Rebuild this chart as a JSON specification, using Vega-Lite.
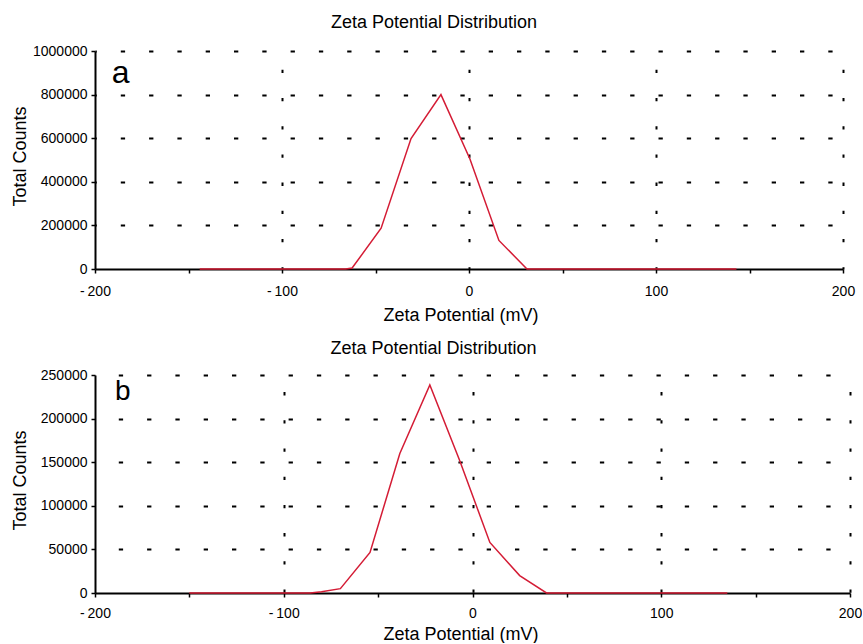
{
  "$schema": "https://vega.github.io/schema/vega-lite/v6.json",
  "background": "white",
  "padding": {"left": 10, "top": 14, "right": 0, "bottom": 0},
  "spacing": 106,
  "bounds": "flush",
  "config": {
    "view": {"stroke": null},
    "font": "Liberation Sans",
    "axis": {
      "domainColor": "black", "domainWidth": 2,
      "tickColor": "black", "tickWidth": 1.5, "tickSize": 4,
      "labelColor": "black", "labelFontSize": 14, "labelFont": "Liberation Sans",
      "labelOverlap": false, "labelFlush": false,
      "titleColor": "black", "titleFontSize": 18, "titleFontWeight": "normal", "titleFont": "Liberation Sans",
      "gridColor": "black", "gridWidth": 2
    },
    "title": {"fontSize": 18, "fontWeight": "normal", "color": "black", "anchor": "middle", "baseline": "alphabetic", "frame": "group", "font": "Liberation Sans"}
  },
  "datasets": {
    "a": [
      {"zeta": -144, "counts": 0}, {"zeta": -128, "counts": 0}, {"zeta": -113, "counts": 0},
      {"zeta": -97, "counts": 0}, {"zeta": -82, "counts": 0}, {"zeta": -66, "counts": 0},
      {"zeta": -62.5, "counts": 4500}, {"zeta": -47, "counts": 187000}, {"zeta": -31, "counts": 598000},
      {"zeta": -15, "counts": 800000}, {"zeta": 0.5, "counts": 505000}, {"zeta": 16, "counts": 131000},
      {"zeta": 31, "counts": 0}, {"zeta": 47, "counts": 0}, {"zeta": 63, "counts": 0},
      {"zeta": 78, "counts": 0}, {"zeta": 94, "counts": 0}, {"zeta": 110, "counts": 0},
      {"zeta": 125, "counts": 0}, {"zeta": 143, "counts": 0}
    ],
    "b": [
      {"zeta": -150, "counts": 0}, {"zeta": -134, "counts": 0}, {"zeta": -118, "counts": 0},
      {"zeta": -102, "counts": 0}, {"zeta": -86, "counts": 0}, {"zeta": -80, "counts": 1500},
      {"zeta": -70, "counts": 5000}, {"zeta": -54.3, "counts": 46500}, {"zeta": -38.5, "counts": 160000},
      {"zeta": -22.6, "counts": 238500}, {"zeta": -6.8, "counts": 152000}, {"zeta": 9.2, "counts": 58000},
      {"zeta": 25, "counts": 20000}, {"zeta": 39.2, "counts": 0}, {"zeta": 55, "counts": 0},
      {"zeta": 71, "counts": 0}, {"zeta": 87, "counts": 0}, {"zeta": 103, "counts": 0},
      {"zeta": 119, "counts": 0}, {"zeta": 135, "counts": 0}
    ],
    "labA": [{"zeta": -186.3, "counts": 855000, "label": "a"}],
    "labB": [{"zeta": -185.3, "counts": 221400, "label": "b"}]
  },
  "vconcat": [
    {
      "width": 748,
      "height": 218,
      "title": {"text": "Zeta Potential Distribution", "dx": -35, "offset": 12},
      "layer": [
        {
          "data": {"name": "a"},
          "mark": {"type": "line", "color": "#d41c35", "strokeWidth": 1.5},
          "encoding": {
            "x": {
              "field": "zeta", "type": "quantitative",
              "scale": {"domain": [-200, 200], "nice": false, "zero": false},
              "axis": {
                "values": [-200, -150, -100, -50, 0, 50, 100, 150, 200],
                "labelExpr": "datum.value % 100 === 0 ? (datum.value < 0 ? '-\u2009' + abs(datum.value) : '' + datum.value) : ''",
                "labelPadding": 11,
                "gridDash": [3.3, 24.9], "gridDashOffset": 9.9,
                "gridOpacity": {"condition": {"test": "datum.value % 100 !== 0 || datum.value === -200", "value": 0}, "value": 1},
                "title": "Zeta Potential (mV)", "titleX": 365.5, "titleY": 51, "titleBaseline": "alphabetic"
              }
            },
            "y": {
              "field": "counts", "type": "quantitative",
              "scale": {"domain": [0, 1000000], "nice": false},
              "axis": {
                "values": [0, 100000, 200000, 300000, 400000, 500000, 600000, 700000, 800000, 900000, 1000000],
                "labelExpr": "datum.value % 200000 === 0 ? '' + datum.value : ''",
                "labelPadding": 4,
                "gridDash": [4.3, 24], "gridDashOffset": 3,
                "gridOpacity": {"condition": {"test": "datum.value % 200000 !== 0 || datum.value === 0", "value": 0}, "value": 1},
                "title": "Total Counts", "titleX": -75, "titleY": 105, "titleBaseline": "middle", "titleAngle": -90
              }
            }
          }
        },
        {
          "data": {"name": "labA"},
          "mark": {"type": "text", "fontSize": 32, "align": "center", "baseline": "alphabetic", "color": "black", "font": "Liberation Sans"},
          "encoding": {
            "x": {"field": "zeta", "type": "quantitative"},
            "y": {"field": "counts", "type": "quantitative"},
            "text": {"field": "label"}
          }
        }
      ]
    },
    {
      "width": 755,
      "height": 218,
      "title": {"text": "Zeta Potential Distribution", "dx": -39, "offset": 10},
      "layer": [
        {
          "data": {"name": "b"},
          "mark": {"type": "line", "color": "#d41c35", "strokeWidth": 1.5},
          "encoding": {
            "x": {
              "field": "zeta", "type": "quantitative",
              "scale": {"domain": [-200, 200], "nice": false, "zero": false},
              "axis": {
                "values": [-200, -150, -100, -50, 0, 50, 100, 150, 200],
                "labelExpr": "datum.value % 100 === 0 ? (datum.value < 0 ? '-\u2009' + abs(datum.value) : '' + datum.value) : ''",
                "labelPadding": 9.5,
                "gridDash": [3.3, 24.9], "gridDashOffset": 11.6,
                "gridOpacity": {"condition": {"test": "datum.value % 100 !== 0 || datum.value === -200", "value": 0}, "value": 1},
                "title": "Zeta Potential (mV)", "titleX": 365.5, "titleY": 46, "titleBaseline": "alphabetic"
              }
            },
            "y": {
              "field": "counts", "type": "quantitative",
              "scale": {"domain": [0, 250000], "nice": false},
              "axis": {
                "values": [0, 25000, 50000, 75000, 100000, 125000, 150000, 175000, 200000, 225000, 250000],
                "labelExpr": "datum.value % 50000 === 0 ? '' + datum.value : ''",
                "labelPadding": 4,
                "gridDash": [4.3, 24], "gridDashOffset": 5,
                "gridOpacity": {"condition": {"test": "datum.value % 50000 !== 0 || datum.value === 0", "value": 0}, "value": 1},
                "title": "Total Counts", "titleX": -75, "titleY": 105, "titleBaseline": "middle", "titleAngle": -90
              }
            }
          }
        },
        {
          "data": {"name": "labB"},
          "mark": {"type": "text", "fontSize": 28, "align": "center", "baseline": "alphabetic", "color": "black", "font": "Liberation Sans"},
          "encoding": {
            "x": {"field": "zeta", "type": "quantitative"},
            "y": {"field": "counts", "type": "quantitative"},
            "text": {"field": "label"}
          }
        }
      ]
    }
  ]
}
